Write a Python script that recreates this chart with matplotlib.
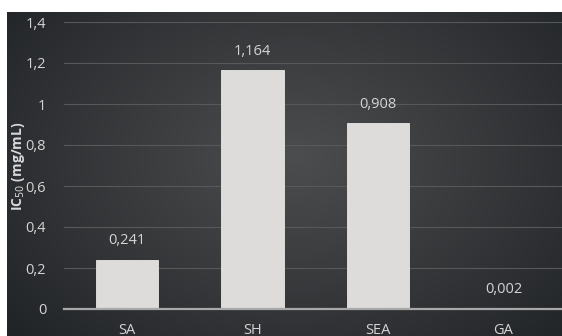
import numpy as np
import matplotlib.pyplot as plt
from matplotlib.ticker import FuncFormatter

categories = ['SA', 'SH', 'SEA', 'GA']
ic50 = [0.241, 1.164, 0.908, 0.002]
value_labels = ['0,241', '1,164', '0,908', '0,002']
yticks = [0, 0.2, 0.4, 0.6, 0.8, 1.0, 1.2, 1.4]

W, H = 562, 336
plt.rcParams['font.family'] = ['Open Sans', 'DejaVu Sans']
fig = plt.figure(figsize=(W / 100, H / 100), dpi=100, facecolor='white')

# dark radial background panel
bg = fig.add_axes([7 / W, 0, 1 - 7 / W, 1 - 12 / H])
yy, xx = np.mgrid[0:1:200j, 0:1:300j]
r = np.sqrt(((xx - 0.52) / 0.75) ** 2 + ((yy - 0.45) / 0.9) ** 2)
shade = np.clip(1 - r, 0, 1)
c0 = np.array([0x1d, 0x20, 0x23]) / 255
c1 = np.array([0x4c, 0x4d, 0x4f]) / 255
img = c0 + (c1 - c0) * shade[..., None]
bg.imshow(img, aspect='auto', extent=[0, 1, 0, 1], origin='upper')
bg.axis('off')

ax = fig.add_axes([64.25 / W, 27 / H, 502 / W, (309 - 22) / H])
ax.patch.set_alpha(0)
x = np.arange(len(categories))
bars = ax.bar(x, ic50, width=0.5, color='#dddcda', edgecolor='#e8e8e6', linewidth=0.6, zorder=3)
ax.set_xlim(-0.5, 3.5)
ax.set_ylim(0, 1.4)
ax.set_yticks(yticks)
ax.yaxis.set_major_formatter(FuncFormatter(lambda v, p: ('%g' % round(v, 1)).replace('.', ',')))
ax.set_xticks(x)
ax.set_xticklabels(categories)
ax.grid(axis='y', color='#56585a', linewidth=0.8, zorder=0)
for s in ['top', 'right', 'left']:
    ax.spines[s].set_visible(False)
ax.spines['bottom'].set_color('#a8a8a8')
ax.spines['bottom'].set_linewidth(1.6)
ax.spines['bottom'].set_zorder(4)
ax.tick_params(axis='both', length=0, colors='#d4d4d4', labelsize=10.5)
ax.tick_params(axis='y', pad=13)
ax.tick_params(axis='x', pad=10)

for b, lab in zip(bars, value_labels):
    ax.annotate(lab, (b.get_x() + b.get_width() / 2, b.get_height()),
                xytext=(0, 8), textcoords='offset points', ha='center', va='bottom',
                color='#d4d4d4', fontsize=10.5)

fig.text(19 / W, 1 - 166 / H, 'IC$_{50}$ (mg/mL)', rotation=90, ha='center', va='center',
         color='#d9d9d9', fontsize=10, fontweight='bold')

fig.savefig('out.png', dpi=100, facecolor='white')
